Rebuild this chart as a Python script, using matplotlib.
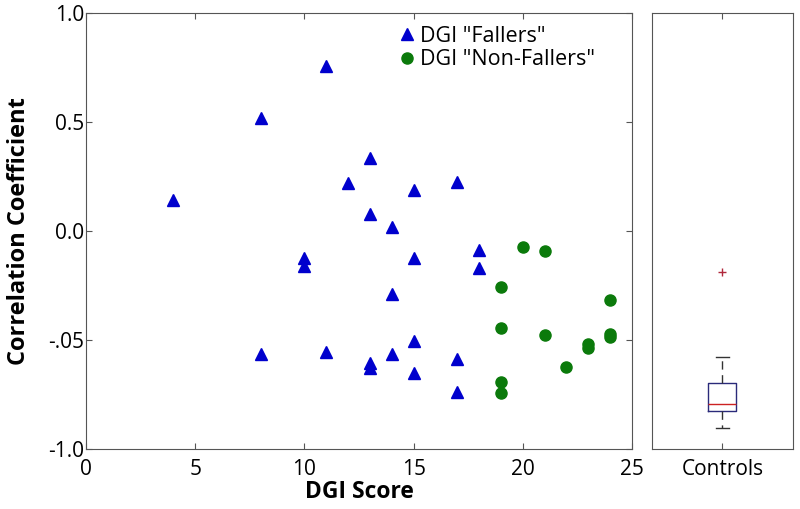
import matplotlib
matplotlib.use("Agg")
import matplotlib.pyplot as plt

plt.rcParams['font.family'] = ['Open Sans', 'DejaVu Sans']

# DGI "Fallers"
fallers_score = [4, 8, 8, 10, 10, 11, 11, 12, 13, 13, 13, 13, 14, 14, 14,
                 15, 15, 15, 15, 17, 17, 17, 18, 18]
fallers_corr = [0.14, 0.52, -0.565, -0.125, -0.16, 0.755, -0.555, 0.22, 0.335,
                0.08, -0.605, -0.63, 0.02, -0.29, -0.565, 0.19, -0.125, -0.505,
                -0.65, 0.225, -0.585, -0.74, -0.088, -0.17]

# DGI "Non-Fallers"
nonfallers_score = [19, 19, 19, 19, 20, 21, 21, 22, 23, 23, 24, 24, 24]
nonfallers_corr = [-0.255, -0.445, -0.695, -0.745, -0.072, -0.092, -0.478,
                   -0.624, -0.518, -0.535, -0.318, -0.472, -0.488]

# Controls box plot summary
controls_med = -0.795
controls_q1 = -0.826
controls_q3 = -0.697
controls_whislo = -0.905
controls_whishi = -0.578
controls_outliers = [-0.188]

y_ticks = [-1.0, -0.5, 0.0, 0.5, 1.0]
y_ticklabels = ["-1.0", "-.05", "0.0", "0.5", "1.0"]
x_ticks = [0, 5, 10, 15, 20, 25]

fig = plt.figure(figsize=(8, 5.09), dpi=100)
ax = fig.add_axes([0.1075, 0.1179, 0.6825, 0.8566])
ax2 = fig.add_axes([0.815, 0.1179, 0.176, 0.8566])

ax.plot(fallers_score, fallers_corr, linestyle='none', marker='^',
        markersize=8.5, color='#0000cd', label='DGI "Fallers"')
ax.plot(nonfallers_score, nonfallers_corr, linestyle='none', marker='o',
        markersize=8, color='#0b7a0b', label='DGI "Non-Fallers"')

ax.set_xlim(0, 25)
ax.set_ylim(-1.0, 1.0)
ax.set_xticks(x_ticks)
ax.set_yticks(y_ticks)
ax.set_yticklabels(y_ticklabels)
ax.tick_params(direction='in', top=True, right=True, labelsize=15,
               length=4, color='#555555', pad=1)
ax.tick_params(axis='x', pad=7)
ax.set_xlabel("DGI Score", fontsize=16.5, fontweight='bold', labelpad=0)
ax.set_ylabel("Correlation Coefficient", fontsize=17, fontweight='bold')
ax.yaxis.set_label_coords(-0.1, 0.5)
for sp in ax.spines.values():
    sp.set_color('#555555')

leg = ax.legend(loc='upper left', bbox_to_anchor=(0.545, 1.0), frameon=False,
                fontsize=15.5, handletextpad=0.1, labelspacing=0.1,
                handlelength=1.0, borderaxespad=0.2)

stats = [dict(med=controls_med, q1=controls_q1, q3=controls_q3,
              whislo=controls_whislo, whishi=controls_whishi,
              fliers=controls_outliers, label="Controls")]
ax2.bxp(stats, positions=[1], widths=0.2,
        boxprops=dict(color='#2a2a7a', linewidth=1),
        medianprops=dict(color='#cc2222', linewidth=1),
        whiskerprops=dict(color='#333333', linestyle=(0, (6, 4)), linewidth=1),
        capprops=dict(color='#333333', linewidth=1),
        flierprops=dict(marker='+', markeredgecolor='#b0283c', markersize=6,
                        linestyle='none'),
        capwidths=0.09)
ax2.set_xlim(0.5, 1.5)
ax2.set_ylim(-1.0, 1.0)
ax2.set_yticks([])
ax2.set_xticks([1])
ax2.set_xticklabels(["Controls"])
ax2.tick_params(direction='in', top=True, labelsize=15, length=4,
                color='#555555', pad=7)
for sp in ax2.spines.values():
    sp.set_color('#555555')

fig.savefig("out.png", dpi=100)
